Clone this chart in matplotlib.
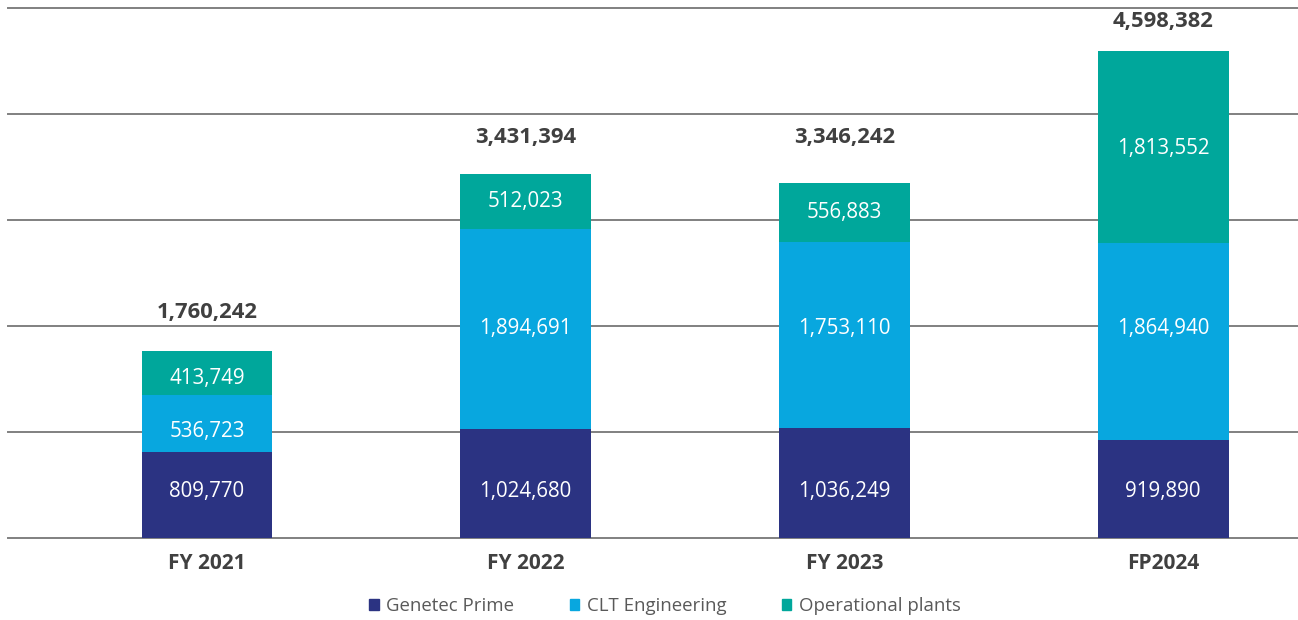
"""Stacked revenue bars by segment."""
import matplotlib.pyplot as plt
from matplotlib.patches import Patch

years = ['FY 2021', 'FY 2022', 'FY 2023', 'FP2024']
genetec_prime = [809770, 1024680, 1036249, 919890]
clt_engineering = [536723, 1894691, 1753110, 1864940]
operational_plants = [413749, 512023, 556883, 1813552]
totals = [1760242, 3431394, 3346242, 4598382]

series_names = ['Genetec Prime', 'CLT Engineering', 'Operational plants']
colors = ['#2B3382', '#08A7DF', '#00A79B']

# label heights as placed in the original (hand-placed, not segment centres)
label_y = [
    [443e3, 443e3, 443e3, 443e3],
    [1.0e6, 1.981e6, 1.981e6, 1.981e6],
    [1.509e6, 3.17e6, 3.075e6, 3.679e6],
]
total_y = [2.123e6, 3.774e6, 3.774e6, 4.868e6]

plt.rcParams['font.family'] = ['Open Sans', 'DejaVu Sans']

fig = plt.figure(figsize=(12.98, 6.2), dpi=100)
ax = fig.add_axes([8/1298, 82/620, 1 - 8/1298, 530/620])

x = range(len(years))
bottom = [0] * len(years)
for vals, col, ly in zip([genetec_prime, clt_engineering, operational_plants], colors, label_y):
    ax.bar(x, vals, width=0.41, bottom=bottom, color=col, zorder=3)
    for i, v in enumerate(vals):
        ax.text(i, ly[i], f'{v:,}', ha='center', va='center',
                color='white', fontsize=14.8, zorder=4)
    bottom = [b + v for b, v in zip(bottom, vals)]

for i, t in enumerate(totals):
    ax.text(i, total_y[i], f'{t:,}', ha='center', va='center', fontsize=15.8,
            fontweight='bold', color='#404040', clip_on=False)

for y in range(0, 5000001, 1000000):
    ax.axhline(y, color='#808080', lw=1.4, zorder=1, clip_on=False)

ax.set_ylim(0, 5000000)
ax.set_xlim(-0.624, 3.423)
ax.set_yticks([])
ax.set_xticks(list(x))
ax.set_xticklabels(years, fontsize=15, fontweight='bold', color='#404040')
ax.tick_params(axis='x', length=0, pad=11)
for s in ax.spines.values():
    s.set_visible(False)

handles = [Patch(color=c) for c in colors]
fig.legend(handles, series_names, loc='center', bbox_to_anchor=(665/1298, 1 - 606/620),
           ncol=3, frameon=False, fontsize=13.4, handlelength=0.5, handleheight=0.5,
           handletextpad=0.4, columnspacing=3.0, labelcolor='#595959')

fig.savefig('out.png', dpi=100)
